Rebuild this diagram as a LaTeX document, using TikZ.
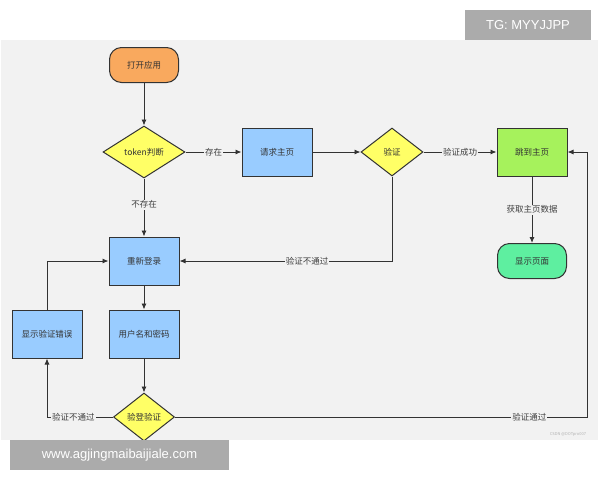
\documentclass[tikz,border=0pt]{standalone}
\usepackage{fontspec}
\setmainfont{Noto Sans CJK SC}
\newfontfamily\wmfont{Liberation Sans}
\usetikzlibrary{shapes.geometric,arrows.meta}
\definecolor{bg}{HTML}{F2F2F2}
\definecolor{oran}{HTML}{F9A95E}
\definecolor{blu}{HTML}{99CCFF}
\definecolor{yel}{HTML}{FFFF66}
\definecolor{grn}{HTML}{A6F25C}
\definecolor{mint}{HTML}{5EEFA0}
\definecolor{edge}{HTML}{333333}
\begin{document}
\begin{tikzpicture}[x=1pt,y=-1pt,font=\fontsize{8.5}{10}\selectfont,
 base/.style={draw=edge,line width=1pt,text=black!80,inner sep=0pt},
 box/.style={base,rectangle,fill=blu,minimum width=70pt,minimum height=48pt},
 term/.style={base,rectangle,rounded corners=12pt,minimum width=69pt,minimum height=35pt},
 dia/.style={base,diamond,fill=yel,aspect=1.6},
 arr/.style={draw=edge,line width=0.9pt,-{Latex[length=6pt,width=5pt]}},
 lab/.style={fill=bg,inner sep=1pt,text=black!75},
 wm/.style={fill=black!33,text=white,minimum height=30pt,font=\fontsize{13}{15}\selectfont\wmfont}]
\useasboundingbox (0,0) rectangle (600,480);
\fill[white] (0,0) rectangle (600,480);
\fill[bg] (1,40) rectangle (598,440);
\node[text=black!30,font=\fontsize{4}{5}\selectfont] (csdn) at (568,434) {CSDN @DOTpro007};

\node[term,fill=oran] (open) at (144,65) {打开应用};
\node[dia,minimum width=82pt,minimum height=52pt] (tok) at (144,152) {token判断};
\node[box] (req) at (277,152) {请求主页};
\node[dia,minimum width=62pt,minimum height=48pt] (ver) at (392,152) {验证};
\node[box,fill=grn] (jump) at (532,152) {跳到主页};
\node[term,fill=mint] (show) at (532,261) {显示页面};
\node[box] (relog) at (144,261) {重新登录};
\node[box] (user) at (144,334) {用户名和密码};
\node[box] (err) at (47,334) {显示验证错误};
\node[dia,minimum width=61pt,minimum height=48pt] (chk) at (144,417) {验登验证};
\coordinate (r1) at (587,417);
\coordinate (r2) at (587,152);

\draw[arr] (open) -- (tok);
\draw[arr] (tok) -- node[lab]{存在} (req);
\draw[arr] (tok) -- node[lab,pos=0.45]{不存在} (relog);
\draw[arr] (req) -- (ver);
\draw[arr] (ver) -- node[lab]{验证成功} (jump);
\draw[arr] (jump) -- node[lab]{获取主页数据} (show);
\draw[arr] (ver) |- node[lab,pos=0.7]{验证不通过} (relog);
\draw[arr] (relog) -- (user);
\draw[arr] (user) -- (chk);
\draw[arr] (chk) -| node[lab,pos=0.3]{验证不通过} (err);
\draw[arr] (err.north) |- (relog.west);
\draw[arr] (chk) -- node[lab,pos=0.86]{验证通过} (r1) -- (r2) -- (jump);

\node[wm,minimum width=126pt] (tg) at (528,25) {TG: MYYJJPP};
\node[wm,minimum width=219pt] (www) at (119.5,455) {www.agjingmaibaijiale.com};
\end{tikzpicture}
\end{document}
